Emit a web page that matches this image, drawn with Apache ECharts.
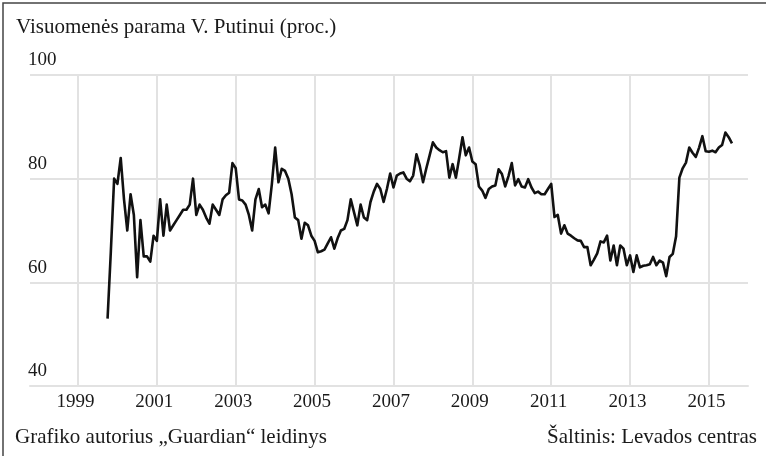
<!DOCTYPE html>
<html>
<head>
<meta charset="utf-8">
<script src="https://cdn.jsdelivr.net/npm/echarts@6/dist/echarts.min.js"></script>
<style>
html,body{margin:0;padding:0;background:#fff;}
#c{width:766px;height:456px;}
</style>
</head>
<body>
<div id="c"></div>
<script>
// Monthly approval (%), starting September 1999
const startYear = 1999;
const startMonth = 9;
const approval1999 = [53, 66, 80, 79];
const approval2000 = [84, 76, 70, 77, 73, 61, 72, 65, 65, 64, 69, 68];
const approval2001 = [76, 69, 75, 70, 71, 72, 73, 74, 74, 75, 80, 73];
const approval2002 = [75, 74, 72.5, 71.3, 75, 74, 73, 76, 76.8, 77.3, 83, 82];
const approval2003 = [76, 75.8, 75, 73, 70, 76, 78, 74.5, 75, 73.3, 79, 86];
const approval2004 = [79.3, 81.9, 81.5, 80, 77, 72.5, 72, 68.4, 71.5, 71, 69, 68];
const approval2005 = [65.8, 66, 66.3, 67.5, 68.7, 66.5, 68.5, 70, 70.3, 72, 76, 73.5];
const approval2006 = [71, 75, 72.5, 72, 75.5, 77.5, 79, 78, 75.5, 78, 81, 78.3];
const approval2007 = [80.6, 81, 81.2, 80, 79.5, 80.6, 84.7, 82.5, 79.3, 82, 84.5, 87];
const approval2008 = [86, 85.5, 85.1, 85.3, 80.2, 82.8, 80.2, 84, 88, 84.5, 86, 83.3];
const approval2009 = [82.8, 78.5, 77.7, 76.3, 78, 78.5, 78.7, 81.8, 80.9, 78.5, 80.5, 83];
const approval2010 = [78.7, 79.9, 78.5, 78.3, 79.9, 78.3, 77.2, 77.5, 77, 77, 78, 79];
const approval2011 = [72.6, 73, 69.4, 71, 69.4, 69, 68.5, 68.1, 68, 66.8, 66.8, 63.3];
const approval2012 = [64.4, 65.6, 67.9, 67.7, 69, 64.2, 67.1, 63.3, 67.1, 66.5, 63.3, 65.2];
const approval2013 = [62, 65.2, 62.9, 63.2, 63.3, 63.5, 64.9, 63.3, 64.2, 63.8, 61.2, 64.9];
const approval2014 = [65.5, 68.9, 80.2, 82, 83.1, 86, 85, 84.2, 86, 88.2, 85.3, 85.2];
const approval2015 = [85.4, 85.1, 86, 86.5, 88.9, 88, 86.8];

const yearTicks = [1999, 2001, 2003, 2005, 2007, 2009, 2011, 2013, 2015];
const yTicks = [40, 60, 80, 100];

const titleText = 'Visuomenės parama V. Putinui (proc.)';
const authorText = 'Grafiko autorius „Guardian“ leidinys';
const sourceText = 'Šaltinis: Levados centras';

const values = [].concat(approval1999, approval2000, approval2001, approval2002,
  approval2003, approval2004, approval2005, approval2006, approval2007,
  approval2008, approval2009, approval2010, approval2011, approval2012,
  approval2013, approval2014, approval2015);
const seriesData = values.map((v, i) => [startYear + (startMonth + i) / 12, v]);

const FONT = '"Liberation Serif", "Times New Roman", serif';
const GRID = '#e2e2e2';
const TXT = '#1a1a1a';

const chart = echarts.init(document.getElementById('c'), null, {renderer: 'canvas'});
chart.setOption({
  backgroundColor: '#fff',
  animation: false,
  title: {
    text: titleText,
    left: 11, top: 12,
    textStyle: {fontFamily: FONT, fontSize: 21, fontWeight: 'normal', color: TXT}
  },
  grid: {left: 30, right: 18, top: 75, bottom: 70, containLabel: false},
  xAxis: {
    type: 'value',
    min: 1997.783, max: 2015.99,
    axisLine: {show: true, lineStyle: {color: GRID, width: 2}},
    axisTick: {show: false, customValues: yearTicks},
    axisLabel: {customValues: yearTicks, fontFamily: FONT, fontSize: 19, color: TXT, margin: 7,
      padding: [0, 5, 0, 0],
      formatter: v => String(Math.round(v))},
    splitLine: {show: true, lineStyle: {color: GRID, width: 2}}
  },
  yAxis: {
    type: 'value',
    min: 40, max: 100, interval: 20,
    axisLine: {show: false},
    axisTick: {show: false},
    axisLabel: {inside: true, margin: -2, fontFamily: FONT, fontSize: 19, color: TXT,
      verticalAlign: 'bottom', padding: [0, 0, 5, 0]},
    splitLine: {show: true, lineStyle: {color: GRID, width: 2}}
  },
  series: [{
    type: 'line',
    data: seriesData,
    showSymbol: false,
    symbol: 'none',
    lineStyle: {color: '#111', width: 2.6, join: 'round'},
    z: 5
  }],
  graphic: [
    {type: 'polyline', shape: {points: [[3, 456], [3, 3], [766, 3]]},
      style: {stroke: '#444', lineWidth: 1.5, fill: null}, silent: true},
    {type: 'text', left: 15, top: 427,
      style: {text: authorText, font: '21px ' + FONT, fill: TXT}},
    {type: 'text', right: 9, top: 427,
      style: {text: sourceText, font: '21px ' + FONT, fill: TXT}}
  ]
});
</script>
</body>
</html>
